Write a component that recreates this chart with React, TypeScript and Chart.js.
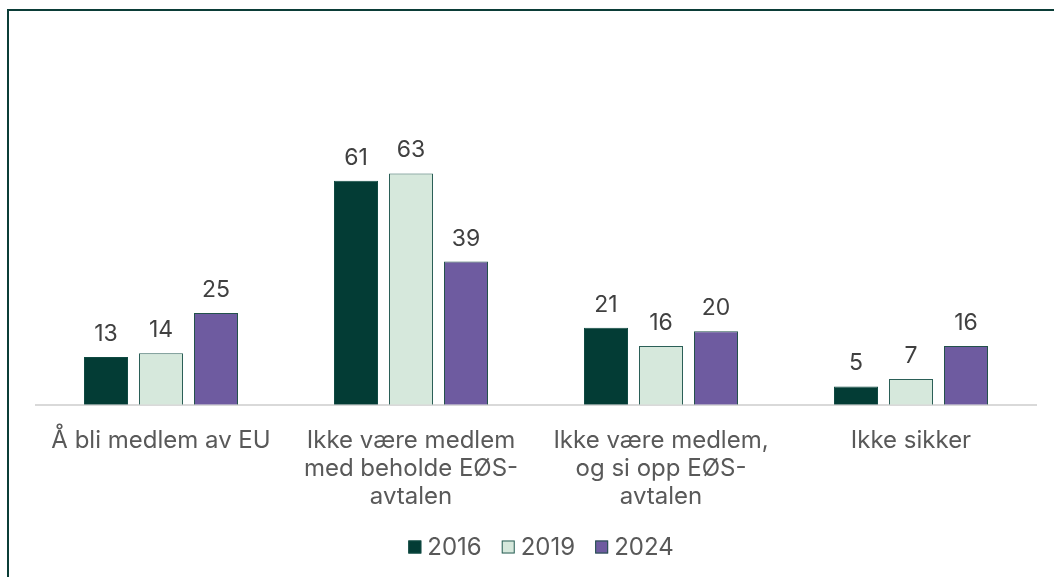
import React, { useEffect, useRef } from "react";
import { Chart, registerables } from "chart.js";

Chart.register(...registerables);

const categories: (string | string[])[] = [
  "Å bli medlem av EU",
  ["Ikke være medlem", "med beholde EØS-", "avtalen"],
  ["Ikke være medlem,", "og si opp EØS-", "avtalen"],
  "Ikke sikker",
];
const series2016 = [13, 61, 21, 5];
const series2019 = [14, 63, 16, 7];
const series2024 = [25, 39, 20, 16];
const seriesNames = ["2016", "2019", "2024"];

const FONT = "Inter, 'Noto Sans', sans-serif";

const valueLabels = {
  id: "valueLabels",
  afterDatasetsDraw(chart: any) {
    const ctx = chart.ctx;
    ctx.save();
    ctx.font = `23px ${FONT}`;
    ctx.fillStyle = "#404040";
    ctx.textAlign = "center";
    ctx.textBaseline = "alphabetic";
    chart.data.datasets.forEach((ds: any, i: number) => {
      const meta = chart.getDatasetMeta(i);
      meta.data.forEach((bar: any, j: number) => {
        ctx.fillText(String(ds.data[j]), bar.x, bar.y - 16);
      });
    });
    ctx.restore();
  },
};

const customLegend = {
  id: "customLegend",
  afterDraw(chart: any) {
    const ctx = chart.ctx;
    ctx.save();
    ctx.font = `24px ${FONT}`;
    const box = 13;
    const gap = 6;
    const itemGap = 20;
    const items = chart.data.datasets.map((ds: any) => ({
      ds,
      w: box + gap + ctx.measureText(ds.label).width,
    }));
    const total =
      items.reduce((s: number, it: any) => s + it.w, 0) + itemGap * (items.length - 1);
    const cx = (chart.chartArea.left + chart.chartArea.right) / 2 + 5;
    let x = cx - total / 2;
    const y = 547;
    items.forEach((it: any) => {
      ctx.fillStyle = it.ds.backgroundColor;
      ctx.fillRect(x, y - box / 2, box, box);
      ctx.strokeStyle = it.ds.borderColor;
      ctx.lineWidth = 1;
      ctx.strokeRect(x + 0.5, y - box / 2 + 0.5, box - 1, box - 1);
      ctx.fillStyle = "#595959";
      ctx.textAlign = "left";
      ctx.textBaseline = "middle";
      ctx.fillText(it.ds.label, x + box + gap, y + 1);
      x += it.w + itemGap;
    });
    ctx.restore();
  },
};

export default function App() {
  const ref = useRef<HTMLCanvasElement | null>(null);
  useEffect(() => {
    if (!ref.current) return;
    const chart = new Chart(ref.current, {
      type: "bar",
      data: {
        labels: categories,
        datasets: [
          {
            label: seriesNames[0],
            data: series2016,
            backgroundColor: "#033c35",
            borderColor: "#0f4a42",
            borderWidth: 1,
          },
          {
            label: seriesNames[1],
            data: series2019,
            backgroundColor: "#d6e8dc",
            borderColor: "#2b5f57",
            borderWidth: 1,
          },
          {
            label: seriesNames[2],
            data: series2024,
            backgroundColor: "#6e5ba0",
            borderColor: "#23524b",
            borderWidth: 1,
          },
        ],
      },
      options: {
        responsive: false,
        animation: false,
        layout: { padding: { top: 111, left: 36, right: 18, bottom: 52 } },
        datasets: { bar: { categoryPercentage: 0.66, barPercentage: 0.8 } },
        scales: {
          x: {
            grid: { display: false },
            border: { display: true, color: "#d9d9d9", width: 2 },
            ticks: {
              color: "#595959",
              font: { family: FONT, size: 24, lineHeight: 1.17 },
              maxRotation: 0,
              autoSkip: false,
              padding: 14,
            },
          },
          y: { display: false, min: 0, max: 80 },
        },
        plugins: {
          legend: { display: false },
          tooltip: { enabled: false },
        },
      },
      plugins: [valueLabels, customLegend],
    });
    return () => chart.destroy();
  }, []);
  return (
    <>
      <div
        style={{
          position: "fixed",
          left: 7,
          top: 9,
          right: -20,
          bottom: -20,
          borderTop: "2px solid #0b3d37",
          borderLeft: "2px solid #0b3d37",
        }}
      />
      <canvas
        ref={ref}
        width={1054}
        height={577}
        style={{ position: "fixed", left: 0, top: 0, width: 1054, height: 577 }}
      />
    </>
  );
}
